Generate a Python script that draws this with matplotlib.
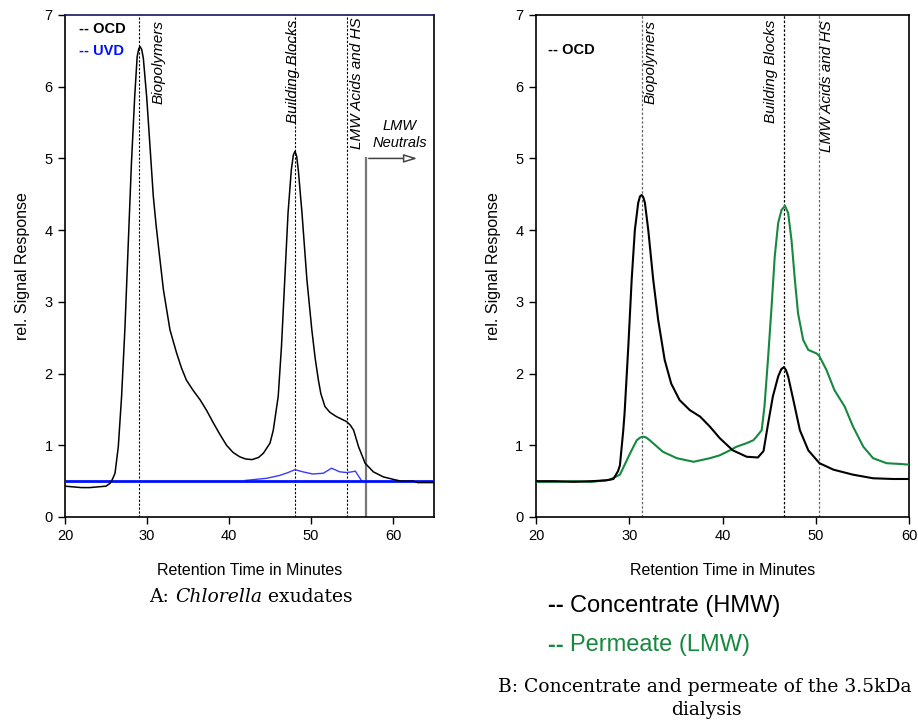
import matplotlib
matplotlib.use("Agg")
import matplotlib.pyplot as plt

plt.rcParams['font.family'] = ['Liberation Sans', 'DejaVu Sans']

# ---- Panel A: Chlorella exudates (OCD + UVD) ----
a_ocd_t = [20.0, 21.0, 22.0, 23.0, 24.0, 25.0, 25.5, 25.8, 26.1, 26.5, 26.9, 27.3, 27.7,
           28.1, 28.5, 28.8, 29.0, 29.15, 29.35, 29.55, 29.96, 30.37, 30.77, 31.1, 31.4,
           32.0, 32.8, 33.6, 34.2, 34.8, 35.6, 36.5, 37.3, 38.1, 38.9, 39.7, 40.5, 41.3,
           42.0, 42.8, 43.6, 44.2, 45.0, 45.4, 46.0, 46.4, 46.8, 47.2, 47.6, 47.85, 48.05,
           48.25, 48.45, 48.9, 49.5, 50.1, 50.5, 50.9, 51.2, 51.7, 52.3, 53.1, 54.35, 54.8,
           55.2, 55.8, 56.6, 57.6, 58.8, 60.2, 61.0, 62.5, 63.0, 65.0]
a_ocd_y = [0.43, 0.42, 0.41, 0.41, 0.42, 0.43, 0.47, 0.53, 0.61, 0.98, 1.68, 2.61, 3.77,
           4.93, 5.86, 6.42, 6.53, 6.56, 6.52, 6.40, 5.86, 5.16, 4.47, 4.08, 3.77,
           3.17, 2.61, 2.29, 2.08, 1.91, 1.77, 1.63, 1.48, 1.31, 1.15, 1.00, 0.90, 0.84,
           0.81, 0.80, 0.83, 0.89, 1.03, 1.21, 1.68, 2.38, 3.31, 4.24, 4.84, 5.05, 5.10,
           5.03, 4.84, 4.24, 3.31, 2.61, 2.22, 1.91, 1.72, 1.54, 1.46, 1.40, 1.33, 1.28,
           1.21, 0.98, 0.75, 0.63, 0.56, 0.52, 0.50, 0.50, 0.48, 0.48]

a_uvd_base = 0.5
a_uvd_t = [42.0, 44.6, 46.2, 47.2, 48.05, 49.0, 50.2, 51.5, 52.5, 53.5, 54.35, 55.0, 55.4, 56.2]
a_uvd_y = [0.51, 0.54, 0.58, 0.62, 0.66, 0.63, 0.60, 0.61, 0.68, 0.63, 0.62, 0.63, 0.64, 0.50]

a_fractions = [("Biopolymers", 29.0), ("Building Blocks", 48.05), ("LMW Acids and HS", 54.4)]
a_neutrals_start = 56.7
a_neutrals_level = 5.0
a_neutrals_end = 63.3

# ---- Panel B: 3.5 kDa dialysis concentrate / permeate (OCD) ----
b_conc_t = [20.0, 22.0, 24.0, 26.0, 27.5, 28.3, 28.8, 29.0, 29.36, 29.5, 29.9, 30.26, 30.6,
            30.96, 31.15, 31.33, 31.5, 31.68, 32.04, 32.57, 33.1, 33.8, 34.5, 35.4, 36.5,
            37.6, 38.65, 39.7, 41.1, 42.6, 43.8, 44.4, 44.9, 45.4, 45.97, 46.3, 46.58,
            46.8, 47.04, 47.6, 48.3, 49.2, 50.4, 51.9, 54.0, 56.15, 58.3, 60.0]
b_conc_y = [0.50, 0.50, 0.49, 0.50, 0.51, 0.53, 0.64, 0.72, 1.21, 1.45, 2.38, 3.31, 4.00,
            4.38, 4.47, 4.49, 4.46, 4.38, 4.00, 3.31, 2.75, 2.19, 1.86, 1.63, 1.49,
            1.40, 1.26, 1.10, 0.93, 0.84, 0.83, 0.92, 1.31, 1.68, 1.96, 2.06, 2.09,
            2.05, 1.96, 1.63, 1.21, 0.93, 0.75, 0.66, 0.59, 0.54, 0.53, 0.53]

b_perm_t = [20.0, 22.0, 24.0, 26.0, 27.9, 29.0, 30.1, 30.8, 31.2, 31.5, 31.8, 32.2, 33.6,
            35.1, 36.9, 38.65, 39.7, 40.8, 41.5, 42.6, 43.3, 43.65, 44.2, 44.5, 44.9,
            45.26, 45.6, 45.97, 46.33, 46.7, 47.04, 47.4, 47.76, 48.1, 48.65, 49.2, 50.1,
            50.4, 51.15, 52.0, 53.1, 54.0, 55.1, 56.15, 57.6, 59.0, 60.0]
b_perm_y = [0.49, 0.49, 0.50, 0.49, 0.52, 0.59, 0.89, 1.07, 1.11, 1.12, 1.11, 1.07, 0.91,
            0.82, 0.77, 0.82, 0.86, 0.93, 0.98, 1.03, 1.07, 1.12, 1.21, 1.54, 2.24,
            2.93, 3.63, 4.10, 4.28, 4.34, 4.24, 3.86, 3.31, 2.84, 2.47, 2.33, 2.28,
            2.24, 2.05, 1.77, 1.54, 1.26, 0.98, 0.82, 0.75, 0.74, 0.73]

b_fractions = [("Biopolymers", 31.4), ("Building Blocks", 46.6), ("LMW Acids and HS", 50.3)]

y_ticks = [0, 1, 2, 3, 4, 5, 6, 7]
x_ticks = [20, 30, 40, 50, 60]

GREEN = '#16883f'
SERIF = ['DejaVu Serif']

fig = plt.figure(figsize=(9.18, 7.23), dpi=100)
axA = fig.add_axes([65 / 918, 1 - 517 / 723, 369 / 918, 502 / 723])
axB = fig.add_axes([536 / 918, 1 - 517 / 723, 373 / 918, 502 / 723])


def style_axes(ax, xmax):
    ax.set_xlim(20, xmax)
    ax.set_ylim(0, 7)
    ax.set_xticks(x_ticks)
    ax.set_yticks(y_ticks)
    ax.tick_params(direction='out', length=5, width=1, labelsize=10.5, pad=4,
                   top=False, right=False)
    for s in ax.spines.values():
        s.set_linewidth(1.2)
    ax.set_xlabel("Retention Time in Minutes", fontsize=11.5, labelpad=14)
    ax.set_ylabel("rel. Signal Response", fontsize=11.5, labelpad=10)


# Panel A
style_axes(axA, 65)
axA.spines['top'].set_color('#151560')
axA.axhline(a_uvd_base, color='#0010ff', lw=2, zorder=3)
axA.plot(a_uvd_t, a_uvd_y, color='#3a3aff', lw=1, zorder=2)
axA.plot(a_ocd_t, a_ocd_y, color='black', lw=1.1, zorder=4)
for name, xv in a_fractions:
    axA.axvline(xv, color='black', lw=0.8, ls=(0, (2, 1.5)), zorder=1)
axA.text(30.6, 6.93, "Biopolymers", rotation=90, ha='left', va='top',
         fontsize=11, style='italic')
axA.text(47.8, 6.93, "Building Blocks", rotation=90, ha='center', va='top',
         fontsize=11, style='italic')
axA.text(54.7, 6.96, "LMW Acids and HS", rotation=90, ha='left', va='top',
         fontsize=11, style='italic')
axA.plot([a_neutrals_start, a_neutrals_start], [0, a_neutrals_level],
         color='#777777', lw=1.6, zorder=2)
axA.annotate("", xy=(a_neutrals_end, a_neutrals_level),
             xytext=(a_neutrals_start, a_neutrals_level),
             arrowprops=dict(arrowstyle='-|>,head_length=0.8,head_width=0.25',
                             color='#444444', lw=1.1, fc='white'))
axA.text(60.85, 5.12, "LMW\nNeutrals", ha='center', va='bottom', fontsize=10.5,
         style='italic', linespacing=1.25)
axA.text(0.038, 0.972, "-- OCD", transform=axA.transAxes, fontsize=10.5,
         fontweight='bold', va='center', ha='left', color='black')
axA.text(0.038, 0.928, "-- UVD", transform=axA.transAxes, fontsize=10.5,
         fontweight='bold', va='center', ha='left', color='#0010ff')

# Panel B
style_axes(axB, 60)
axB.plot(b_conc_t, b_conc_y, color='black', lw=1.5, zorder=4)
axB.plot(b_perm_t, b_perm_y, color=GREEN, lw=1.5, zorder=3)
for name, xv in b_fractions:
    col = 'black' if name == "Building Blocks" else '#666666'
    axB.axvline(xv, color=col, lw=0.9, ls=(0, (2, 1.5)), zorder=1)
axB.text(31.5, 6.93, "Biopolymers", rotation=90, ha='left', va='top',
         fontsize=11, style='italic')
axB.text(45.95, 6.93, "Building Blocks", rotation=90, ha='right', va='top',
         fontsize=11, style='italic')
axB.text(50.45, 6.93, "LMW Acids and HS", rotation=90, ha='left', va='top',
         fontsize=11, style='italic')
axB.text(0.032, 0.93, "-- OCD", transform=axB.transAxes, fontsize=10.5,
         fontweight='bold', va='center', ha='left')

# Captions and series key below the panels
fig.canvas.draw()
renderer = fig.canvas.get_renderer()


def centred_runs(x_center, y_px, runs, **common):
    """Place consecutive text runs on one line, centred on x_center (figure px)."""
    artists, widths = [], []
    for s, kw in runs:
        t = fig.text(0, 1 - y_px / 723, s, **common, **kw)
        artists.append(t)
        widths.append(t.get_window_extent(renderer).width)
    x = x_center - sum(widths) / 2
    for t, w in zip(artists, widths):
        t.set_x(x / 918)
        x += w


def left_runs(x_left, y_px, runs, **common):
    x = x_left
    for s, kw in runs:
        t = fig.text(x / 918, 1 - y_px / 723, s, **common, **kw)
        x += t.get_window_extent(renderer).width


centred_runs(251, 597, [("A:\u00a0", {}), ("Chlorella", {'style': 'italic'}),
                        ("\u00a0exudates", {})],
             family=SERIF, fontsize=13.5, va='center')

left_runs(548, 606, [("-- ", {'fontweight': 'bold'}), ("Concentrate (HMW)", {})],
          fontsize=17, va='center', color='black')
left_runs(548, 645, [("-- ", {'fontweight': 'bold'}), ("Permeate (LMW)", {})],
          fontsize=17, va='center', color=GREEN)
fig.text(705 / 918, 1 - 687 / 723, "B: Concentrate and permeate of the 3.5kDa",
         family=SERIF, fontsize=13.5, ha='center', va='center')
fig.text(706 / 918, 1 - 710 / 723, "dialysis", family=SERIF, fontsize=13.5,
         ha='center', va='center')

fig.savefig("out.png", dpi=100)
